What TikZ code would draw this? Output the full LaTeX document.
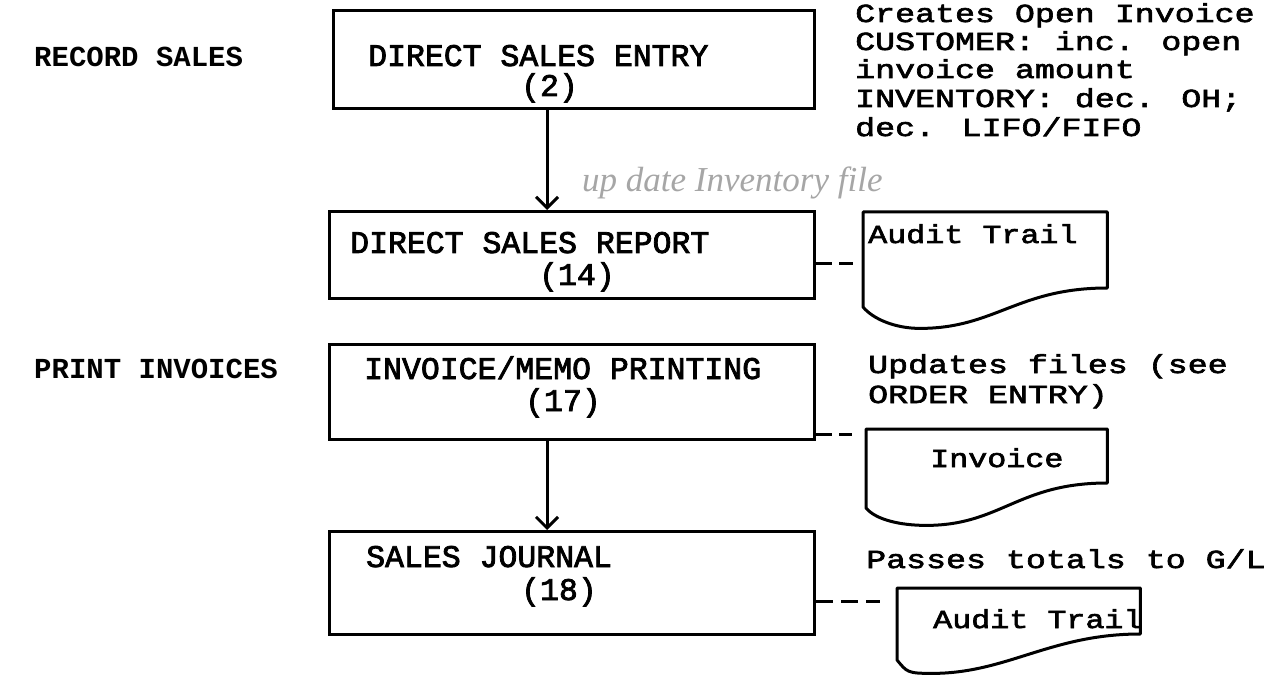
\documentclass[tikz,border=0pt]{standalone}
\usepackage{fontspec}
\usetikzlibrary{arrows.meta,calc}
\newfontfamily\tw[FakeBold=2.5]{Liberation Mono}
\newfontfamily\notefont[FakeBold=2.5,FakeStretch=1.28]{Liberation Mono}
\newfontfamily\docfont[FakeBold=2.5,FakeStretch=1.22]{Liberation Mono}
\newfontfamily\twplain{Liberation Mono}
\newfontfamily\handfont{Liberation Serif}

\tikzset{
  proc/.style={draw, line width=3pt, anchor=north west, inner sep=0pt},
  boxtxt/.style={inner sep=0pt, anchor=base west, font=\tw\fontsize{31.5}{34}\selectfont},
  notetxt/.style={inner sep=0pt, anchor=base west, font=\notefont\fontsize{26}{28}\selectfont},
  doctxt/.style={inner sep=0pt, anchor=base west, font=\docfont\fontsize{26}{28}\selectfont},
  lbl/.style={inner sep=0pt, anchor=base west, font=\twplain\bfseries\fontsize{29}{31}\selectfont},
  flow/.style={line width=3pt, -{Straight Barb[length=11pt,width=22pt,line width=3pt]}},
  link/.style={line width=3pt, dash pattern=on 16pt off 7pt},
  docframe/.style={inner sep=0pt, anchor=north west},
  docline/.style={line width=3pt, line join=round},
  hand/.style={inner sep=0pt, anchor=base west, text=black!35,
    font=\handfont\itshape\fontsize{35}{37}\selectfont}
}

% document symbol: flat top, wavy bottom
% #1 frame node, #2 drop of right side, #3 drop of left side, #4 x offset of the trough
\newcommand{\docpath}[4]{%
  \draw[docline] (#1.north west) -- (#1.north east)
    -- ($(#1.north east)+(0,#2)$)
    .. controls +(-90,0) and +(75,0) .. ($(#1.south west)+(#4,0)$)
    .. controls +(-25,0) and +(10,12) .. ($(#1.north west)+(0,#3)$)
    -- cycle;}

\begin{document}
\begin{tikzpicture}[x=1pt,y=-1pt]
\useasboundingbox[fill=white] (0,0) rectangle (1266,676);

% phase labels
\node[lbl] (rec) at (34,67) {RECORD SALES};
\node[lbl] (pri) at (34,378) {PRINT INVOICES};

% program boxes
\node[proc, minimum width=481pt, minimum height=98pt]  (b1) at (332,9)   {};
\node[proc, minimum width=485pt, minimum height=87pt]  (b2) at (328,210) {};
\node[proc, minimum width=485pt, minimum height=95pt]  (b3) at (328,343) {};
\node[proc, minimum width=485pt, minimum height=103pt] (b4) at (328,530) {};

\node[boxtxt] (t1) at (368,66)  {DIRECT SALES ENTRY};
\node[boxtxt] (n1) at (521,96)  {(2)};
\node[boxtxt] (t2) at (350,253) {DIRECT SALES REPORT};
\node[boxtxt] (n2) at (539,285) {(14)};
\node[boxtxt] (t3) at (364,379) {INVOICE/MEMO PRINTING};
\node[boxtxt] (n3) at (525,411) {(17)};
\node[boxtxt] (t4) at (366,567) {SALES JOURNAL};
\node[boxtxt] (n4) at (521,600) {(18)};

% flow arrows
\coordinate (ax) at (547,0);
\draw[flow] (b1.south -| ax) -- (b2.north -| ax);
\draw[flow] (b3.south -| ax) -- (b4.north -| ax);

% notes
\node[notetxt] (c1) at (855,22)  {Creates Open Invoice};
\node[notetxt] (c2) at (855,50)  {CUSTOMER: inc. open};
\node[notetxt] (c3) at (855,78)  {invoice amount};
\node[notetxt] (c4) at (855,107) {INVENTORY: dec. OH;};
\node[notetxt] (c5) at (855,136) {dec. LIFO/FIFO};
\node[notetxt] (u1) at (868,373) {Updates files (see};
\node[notetxt] (u2) at (868,403) {ORDER ENTRY)};
\node[notetxt] (p1) at (866,568) {Passes totals to G/L};

\node[hand] (hw) at (582,192) {up date Inventory file};

% printed outputs
\node[docframe, minimum width=244pt, minimum height=116pt] (d1) at (863,212) {};
\docpath{d1}{76}{95}{57}
\node[doctxt] (d1t) at (868,243) {Audit Trail};

\node[docframe, minimum width=241pt, minimum height=96pt] (d2) at (866,429) {};
\docpath{d2}{54}{79}{60}
\node[doctxt] (d2t) at (930,467) {Invoice};

\node[docframe, minimum width=243pt, minimum height=85pt] (d3) at (897,588) {};
\docpath{d3}{46}{72}{35}
\node[doctxt] (d3t) at (933,628) {Audit Trail};

% report links
\draw[link, shorten >=10pt] ($(b2.north east)+(0,54)$) coordinate (k2) -- (k2 -| d1.west);
\draw[link, shorten >=14pt] ($(b3.north east)+(0,91)$) coordinate (k3) -- (k3 -| d2.west);
\draw[link, dash pattern=on 17pt off 8pt, shorten >=17pt] ($(b4.north east)+(0,71)$) coordinate (k4) -- (k4 -| d3.west);
\end{tikzpicture}
\end{document}
